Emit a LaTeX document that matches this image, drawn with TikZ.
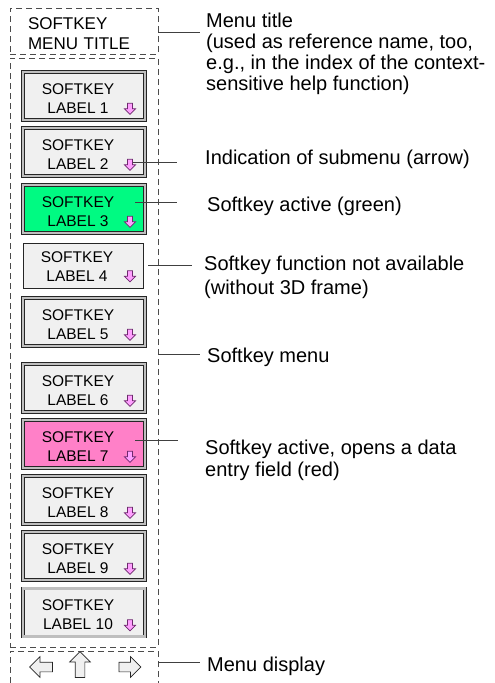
\documentclass[tikz,border=0pt]{standalone}
\usepackage{fontspec}
\setmainfont{Liberation Sans}
\usepackage{xcolor}
\usepackage{tikz}
\usetikzlibrary{shapes.arrows}

\definecolor{keygray}{RGB}{240,240,240}
\definecolor{keygreen}{RGB}{0,250,130}
\definecolor{keypink}{RGB}{255,128,200}
\definecolor{arrowpink}{RGB}{255,160,255}
\definecolor{arrowline}{RGB}{110,40,110}

\begin{document}
\begin{tikzpicture}[x=1pt, y=-1pt,
  menubox/.style={draw=black!70, line width=0.8pt, dash pattern=on 6pt off 4pt},
  subarrow/.style={single arrow, draw=arrowline, fill=arrowpink, line width=0.7pt,
    shape border rotate=270, minimum height=11pt, inner sep=2.2pt,
    single arrow head extend=3pt},
  softkey/.style={draw=black!85, line width=0.7pt, double=black!25, double distance=2.4pt,
    fill=keygray, minimum width=122pt, minimum height=48pt, inner sep=0pt,
    label={[subarrow, xshift=46pt, yshift=-11.5pt]center:{}}},
  flatkey/.style={draw=black!85, line width=0.8pt, fill=keygray,
    minimum width=120pt, minimum height=45pt, inner sep=0pt,
    label={[subarrow, xshift=47pt, yshift=-9.5pt]center:{}}},
  keytext/.style={align=center, font=\fontsize{15.5}{19}\selectfont, xshift=-6pt, yshift=-2.5pt},
  titletext/.style={align=left, text width=112pt, inner sep=0pt, font=\fontsize{17}{19.5}\selectfont, yshift=-2.5pt},
  navarrow/.style={single arrow, draw=black!85, fill=keygray, line width=0.7pt,
    inner sep=4.5pt, single arrow head extend=5.5pt},
  callout/.style={draw=black!75, line width=0.8pt},
  note/.style={anchor=base west, align=left, inner sep=0pt, font=\fontsize{20}{22}\selectfont}
]
\useasboundingbox (0,0) rectangle (495,683);
\clip (0,0) rectangle (495,683);

% dashed frames
\node[menubox, minimum width=148pt, minimum height=46pt,
  label={[titletext]center:{SOFTKEY\\MENU TITLE}}] (title) at (84,31) {};
\node[menubox, minimum width=148pt, minimum height=589pt] (menu) at (84,352.5) {};
\node[menubox, minimum width=148pt, minimum height=48pt] (disp) at (84,675) {};

% softkeys
\node[softkey, label={[keytext]center:{SOFTKEY\\LABEL 1}}] (k1) at (84,96) {};
\node[softkey, label={[keytext]center:{SOFTKEY\\LABEL 2}}] (k2) at (84,152) {};
\node[softkey, fill=keygreen, label={[keytext]center:{SOFTKEY\\LABEL 3}}] (k3) at (84,209) {};
\node[flatkey, label={[keytext, yshift=1pt]center:{SOFTKEY\\LABEL 4}}] (k4) at (83,265.5) {};
\node[softkey, label={[keytext]center:{SOFTKEY\\LABEL 5}}] (k5) at (84,322) {};
\node[softkey, label={[keytext]center:{SOFTKEY\\LABEL 6}}] (k6) at (84,388) {};
\node[softkey, fill=keypink, label={[keytext]center:{SOFTKEY\\LABEL 7}}] (k7) at (84,444) {};
\node[softkey, label={[keytext]center:{SOFTKEY\\LABEL 8}}] (k8) at (84,500) {};
\node[softkey, label={[keytext]center:{SOFTKEY\\LABEL 9}}] (k9) at (84,556) {};
\node[softkey, label={[keytext]center:{SOFTKEY\\LABEL 10}}] (k10) at (84,612.5) {};

% menu display arrows
\node[navarrow, shape border rotate=180, minimum height=23pt] (navleft) at (43.5,667) {};
\node[navarrow, shape border rotate=90, minimum height=26pt] (navup) at (80,667) {};
\node[navarrow, minimum height=22pt] (navright) at (127.5,667) {};

% explanations (base = last line)
\node[note, font=\fontsize{20}{21}\selectfont] (n1) at (206,90) {Menu title\\(used as reference name, too,\\e.g., in the index of the context-\\sensitive help function)};
\node[note] (n2) at (205,164) {Indication of submenu (arrow)};
\node[note] (n3) at (207,211) {Softkey active (green)};
\node[note, font=\fontsize{20}{24}\selectfont] (n4) at (204,294) {Softkey function not available\\(without 3D frame)};
\node[note] (n5) at (207,362) {Softkey menu};
\node[note] (n7) at (205,476) {Softkey active, opens a data\\entry field (red)};
\node[note] (n8) at (207,671) {Menu display};

\draw[callout] ([yshift=-1pt]title.east) -- ++(42,0);
\draw[callout] ([shift={(49,10)}]k2.center) -- ++(44,0);
\draw[callout] ([shift={(51,-7)}]k3.center) -- ++(42,0);
\draw[callout] ([xshift=5pt]k4.east) -- ++(44,0);
\draw[callout] ([yshift=-1.5pt]menu.east) -- ++(42,0);
\draw[callout] ([shift={(51,-4)}]k7.center) -- ++(43,0);
\draw[callout] ([yshift=-12pt]disp.north east) -- ++(42,0);
\end{tikzpicture}
\end{document}
